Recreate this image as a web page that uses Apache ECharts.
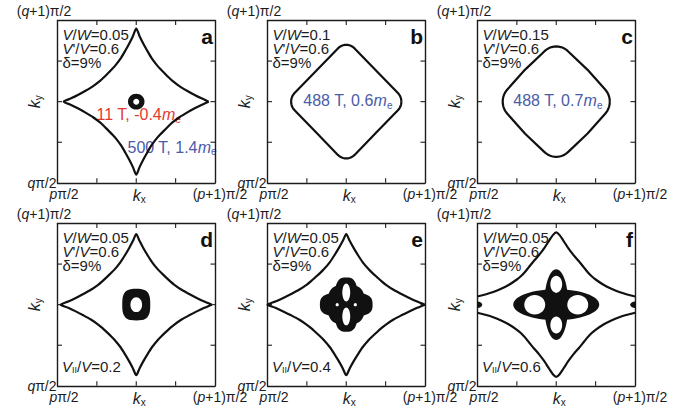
<!DOCTYPE html>
<html><head><meta charset="utf-8">
<script src="https://cdn.jsdelivr.net/npm/echarts@6/dist/echarts.min.js"></script>
<style>html,body{margin:0;padding:0;background:#fff}#c{width:688px;height:411px}</style>
</head><body><div id="c"></div>
<script>
// ---------- data (k-space, each panel spans -1..1 = pπ/2..(p+1)π/2) ----------
const panelLetters = ['a','b','c','d','e','f'];
const xTickLabels = ['{sp3| }{i|p}π/2', '{sp| }{k|k}{s|x}', '{sp2| }({i|p}+1)π/2'];
const yTickLabels = ['{i|q}π/2', '{k|k}{s|y}', '({i|q}+1)π/2'];
const tickValues = [-0.5, 0, 0.5];
const vwValues = ['0.05','0.1','0.15','0.05','0.05','0.05'];
const vpvValues = ['0.6','0.6','0.6','0.6','0.6','0.6'];
const deltaValues = ['9%','9%','9%','9%','9%','9%'];
const vparValues = [null,null,null,'0.2','0.4','0.6'];
const noteA = [['11 T, -0.4','red'],['500 T, 1.4','blue']];
const noteB = [['488 T, 0.6','blue']];
const noteC = [['488 T, 0.7','blue']];

// outer Fermi contours, first quadrant (x>=0,y>=0), mirrored by symmetry
const starA = [[0.92,0],[0.828,0.0405],[0.736,0.0855],[0.644,0.135],[0.552,0.189],[0.46,0.2565],[0.414,0.297],[0.359,0.351],[0.304,0.405],[0.262,0.45],[0.193,0.54],[0.138,0.63],[0.087,0.72],[0.041,0.81],[0,0.90]];
const starD = [[0.96,0],[0.864,0.039],[0.768,0.083],[0.672,0.131],[0.576,0.183],[0.48,0.248],[0.432,0.287],[0.374,0.339],[0.317,0.392],[0.274,0.435],[0.202,0.522],[0.144,0.609],[0.091,0.696],[0.043,0.783],[0,0.87]];
const starE = [[1.0,0],[0.9,0.039],[0.8,0.083],[0.7,0.131],[0.6,0.183],[0.5,0.248],[0.45,0.287],[0.39,0.339],[0.33,0.392],[0.285,0.435],[0.21,0.522],[0.15,0.609],[0.095,0.696],[0.045,0.783],[0,0.87]];
const starF = [[1.0,0.10],[0.9,0.125],[0.8,0.155],[0.7,0.195],[0.6,0.245],[0.5,0.31],[0.45,0.35],[0.40,0.40],[0.35,0.46],[0.30,0.52],[0.22,0.61],[0.15,0.70],[0.09,0.79],[0.04,0.86],[0,0.89]];
const diamondB = [[0.70,0],[0.6987,0.0196],[0.6949,0.0388],[0.6886,0.0574],[0.6799,0.075],[0.669,0.0913],[0.6561,0.1061],[0.381,0.381],[0.1061,0.6561],[0.0913,0.669],[0.075,0.6799],[0.0574,0.6886],[0.0388,0.6949],[0.0196,0.6987],[0,0.70]];
const diamondC = [[0.68,0],[0.6781,0.0287],[0.6725,0.0569],[0.6633,0.0842],[0.6505,0.11],[0.6345,0.1339],[0.6156,0.1556],[0.395,0.395],[0.1556,0.6156],[0.1339,0.6345],[0.11,0.6505],[0.0842,0.6633],[0.0569,0.6725],[0.0287,0.6781],[0,0.68]];
// normalised rounded-square outline (first quadrant)
const squircle = [[1,0],[0.977,0.406],[0.909,0.63],[0.794,0.794],[0.63,0.909],[0.406,0.977],[0,1]];
// thick inner pockets: [shape, cx, cy, rx, ry, tone]
const pocketsA = [['ellipse',0,0,0.105,0.096,'ink'],['ellipse',0,0,0.038,0.037,'hole']];
const pocketsD = [['squircle',0,0,0.178,0.195,'ink'],['ellipse',0,0,0.074,0.092,'hole']];
const pocketsE = [['squircle',0,0,0.335,0.15,'ink'],['squircle',0,0,0.15,0.335,'ink'],['squircle',0,0,0.235,0.245,'ink'],
  ['ellipse',0,0.15,0.05,0.11,'hole'],['ellipse',0,-0.145,0.05,0.11,'hole'],
  ['ellipse',-0.115,0,0.02,0.02,'hole'],['ellipse',0.115,0,0.02,0.02,'hole']];
const pocketsF = [['ellipse',0,0,0.546,0.189,'ink'],['ellipse',0,0,0.152,0.435,'ink'],
  ['ellipse',-0.273,0,0.133,0.12,'hole'],['ellipse',0.273,0,0.133,0.12,'hole'],
  ['ellipse',0,0.25,0.075,0.105,'hole'],['ellipse',0,-0.25,0.075,0.105,'hole'],
  ['ellipse',-1,0,0.06,0.04,'ink'],['ellipse',1,0,0.06,0.04,'ink']];

// ---------- helpers ----------
function pushU(out,p){const l=out[out.length-1]; if(!l||l[0]!==p[0]||l[1]!==p[1]) out.push(p);}
function closeQuad(q){
  const out=[];
  q.forEach(p=>pushU(out,[p[0],p[1]]));
  q.slice().reverse().forEach(p=>pushU(out,[-p[0],p[1]]));
  q.forEach(p=>pushU(out,[-p[0],-p[1]]));
  q.slice().reverse().forEach(p=>pushU(out,[p[0],-p[1]]));
  pushU(out,[q[0][0],q[0][1]]);
  return out;
}
function openTop(q){
  const out=[];
  q.forEach(p=>pushU(out,[-p[0],p[1]]));
  q.slice().reverse().forEach(p=>pushU(out,[p[0],p[1]]));
  return out;
}

const FONT = "'Liberation Sans', Arial, Helvetica, sans-serif";
const INK = '#111111', FRAME = '#1c1c1c', TXT = '#1c1c1c';
const RED = '#e5392e', BLUE = '#4a5ba8';
const GL = [57.5, 267.5, 477.5], GT = [20.5, 223.5], GW = 157.5, GH = 162.3;
const TICK_LEN = 4.5;

const RICH = {
  i: {fontStyle:'italic', fontSize:14, fontFamily:FONT, color:TXT},
  k: {fontStyle:'italic', fontSize:16, fontFamily:FONT, color:TXT},
  s: {fontSize:10, fontFamily:FONT, color:TXT, padding:[8,0,0,0]},
  sp: {width:6}, sp2: {width:10}, sp3: {width:13}
};

const grids=[], xAxes=[], yAxes=[], series=[], graphics=[];
for(let g=0; g<6; g++){
  const col=g%3, row=Math.floor(g/3);
  grids.push({left:GL[col], top:GT[row], width:GW, height:GH, show:false, containLabel:false, outerBoundsMode:'none'});
  const tick={show:false};
  const line={show:true, onZero:false, lineStyle:{color:FRAME, width:1.4}};
  xAxes.push({gridIndex:g, type:'value', min:-1, max:1, interval:0.5, position:'bottom',
    axisLine:line, splitLine:{show:false}, axisTick:tick,
    axisLabel:{show:true, margin:4, fontSize:14, fontFamily:FONT, color:TXT, rich:RICH,
      formatter:v=> v===-1?xTickLabels[0]:(v===0?xTickLabels[1]:(v===1?xTickLabels[2]:''))}});
  xAxes.push({gridIndex:g, type:'value', min:-1, max:1, interval:0.5, position:'top',
    axisLine:line, splitLine:{show:false}, axisTick:tick, axisLabel:{show:false},
    name:yTickLabels[2], nameLocation:'start', nameGap:13.5, nameMoveOverlap:false,
    nameTextStyle:{align:'center', verticalAlign:'bottom', padding:[0,0,3,0], fontSize:14, fontFamily:FONT, color:TXT, rich:RICH}});
  yAxes.push({gridIndex:g, type:'value', min:-1, max:1, interval:0.5, position:'left',
    axisLine:line, splitLine:{show:false}, axisTick:tick,
    axisLabel:{show:true, margin:1, fontSize:14, fontFamily:FONT, color:TXT, rich:RICH,
      formatter:v=> v===-1?yTickLabels[0]:''},
    name:yTickLabels[1], nameLocation:'middle', nameGap:14, nameRotate:90, nameMoveOverlap:false,
    nameTextStyle:{fontSize:16, fontFamily:FONT, color:TXT, rich:RICH}});
  yAxes.push({gridIndex:g, type:'value', min:-1, max:1, interval:0.5, position:'right',
    axisLine:line, splitLine:{show:false}, axisTick:tick, axisLabel:{show:false}});

  // inward ticks on all four sides, placed through the panel's scales
  series.push({type:'custom', xAxisIndex:2*g, yAxisIndex:2*g, silent:true, animation:false, clip:false,
    data: tickValues.map(v=>[v, v]),
    renderItem:function(params, api){
      const v = tickValues[params.dataIndex];
      const b = api.coord([v,-1]), t = api.coord([v,1]), l = api.coord([-1,v]), r = api.coord([1,v]);
      const st = {stroke:FRAME, lineWidth:1.1};
      return {type:'group', children:[
        {type:'line', shape:{x1:b[0], y1:b[1], x2:b[0], y2:b[1]-TICK_LEN}, style:st},
        {type:'line', shape:{x1:t[0], y1:t[1], x2:t[0], y2:t[1]+TICK_LEN}, style:st},
        {type:'line', shape:{x1:l[0], y1:l[1], x2:l[0]+TICK_LEN, y2:l[1]}, style:st},
        {type:'line', shape:{x1:r[0], y1:r[1], x2:r[0]-TICK_LEN, y2:r[1]}, style:st}]};
    }});

  // annotations
  const L=GL[col], T=GT[row];
  const richP = {i:{fontStyle:'italic', fontSize:15, fontFamily:FONT, fill:TXT}, n:{fontSize:15, fontFamily:FONT, fill:TXT},
    sub:{fontSize:9, fontFamily:FONT, fill:TXT, padding:[7,0,0,0]}};
  graphics.push({type:'text', left:L+5, top:T+6.5, style:{text:'{i|V}{n|/}{i|W}{n|='+vwValues[g]+'}', rich:richP, font:'15px '+FONT}});
  graphics.push({type:'text', left:L+5, top:T+20.7, style:{text:"{i|V}{n|'/}{i|V}{n|="+vpvValues[g]+'}', rich:richP, font:'15px '+FONT}});
  graphics.push({type:'text', left:L+5, top:T+34.5, style:{text:'{n|δ='+deltaValues[g]+'}', rich:richP, font:'15px '+FONT}});
  graphics.push({type:'text', right:688-(L+GW-2), top:T+5, style:{text:panelLetters[g], font:'bold 21px '+FONT, fill:'#111'}});
  if(vparValues[g]) graphics.push({type:'text', left:L+4.5, top:T+135.5, style:{text:'{i|V}{sub|II}{n|/}{i|V}{n|='+vparValues[g]+'}', rich:richP, font:'15px '+FONT}});
}

// note texts
function noteRich(color){return {n:{fontSize:16, fontFamily:FONT, fill:color}, i:{fontSize:16, fontStyle:'italic', fontFamily:FONT, fill:color}, sub:{fontSize:10, fontFamily:FONT, fill:color, padding:[9,0,0,0]}};}
function noteText(n){return '{n|'+n[0]+'}{i|m}{sub|e}';}
const colorOf = c => c==='red'?RED:BLUE;
graphics.push({type:'text', left:GL[0]+39, top:GT[0]+86, style:{text:noteText(noteA[0]), rich:noteRich(colorOf(noteA[0][1]))}});
graphics.push({type:'text', left:GL[0]+70, top:GT[0]+118.5, style:{text:noteText(noteA[1]), rich:noteRich(colorOf(noteA[1][1]))}});
graphics.push({type:'text', left:GL[1]+35.8, top:GT[0]+72, style:{text:noteText(noteB[0]), rich:noteRich(colorOf(noteB[0][1]))}});
graphics.push({type:'text', left:GL[2]+35.8, top:GT[0]+72, style:{text:noteText(noteC[0]), rich:noteRich(colorOf(noteC[0][1]))}});

// contour series
function contour(g, pts, smooth){
  series.push({type:'line', xAxisIndex:2*g, yAxisIndex:2*g, data:pts, showSymbol:false, symbol:'none', smooth:smooth, silent:true,
    lineStyle:{color:INK, width:2.2}, animation:false, clip:true});
}
function pockets(g, items){
  series.push({type:'custom', xAxisIndex:2*g, yAxisIndex:2*g, clip:true, silent:true, animation:false,
    data: items.map(it=>[it[1], it[2]]),
    renderItem:function(params, api){
      const it = items[params.dataIndex];
      const cx=it[1], cy=it[2], rx=it[3], ry=it[4];
      const fill = it[5]==='ink'?INK:'#ffffff';
      const c = api.coord([cx,cy]); const s = api.size([rx,ry]);
      if(it[0]==='ellipse') return {type:'ellipse', shape:{cx:c[0], cy:c[1], rx:s[0], ry:s[1]}, style:{fill:fill}};
      const pts = closeQuad(squircle).slice(0,-1).map(p=>api.coord([cx+p[0]*rx, cy+p[1]*ry]));
      return {type:'polygon', shape:{points:pts, smooth:0.35}, style:{fill:fill}};
    }});
}
contour(0, closeQuad(starA), 0.25); pockets(0, pocketsA);
contour(1, closeQuad(diamondB), false);
contour(2, closeQuad(diamondC), false);
contour(3, closeQuad(starD), 0.25); pockets(3, pocketsD);
contour(4, closeQuad(starE), 0.25); pockets(4, pocketsE);
const fTop = openTop(starF);
contour(5, fTop, 0.25); contour(5, fTop.map(p=>[p[0],-p[1]]), 0.25); pockets(5, pocketsF);

const chart = echarts.init(document.getElementById('c'), null, {renderer:'svg'});
chart.setOption({animation:false, backgroundColor:'#ffffff', grid:grids, xAxis:xAxes, yAxis:yAxes, series:series, graphic:graphics});
</script></body></html>
